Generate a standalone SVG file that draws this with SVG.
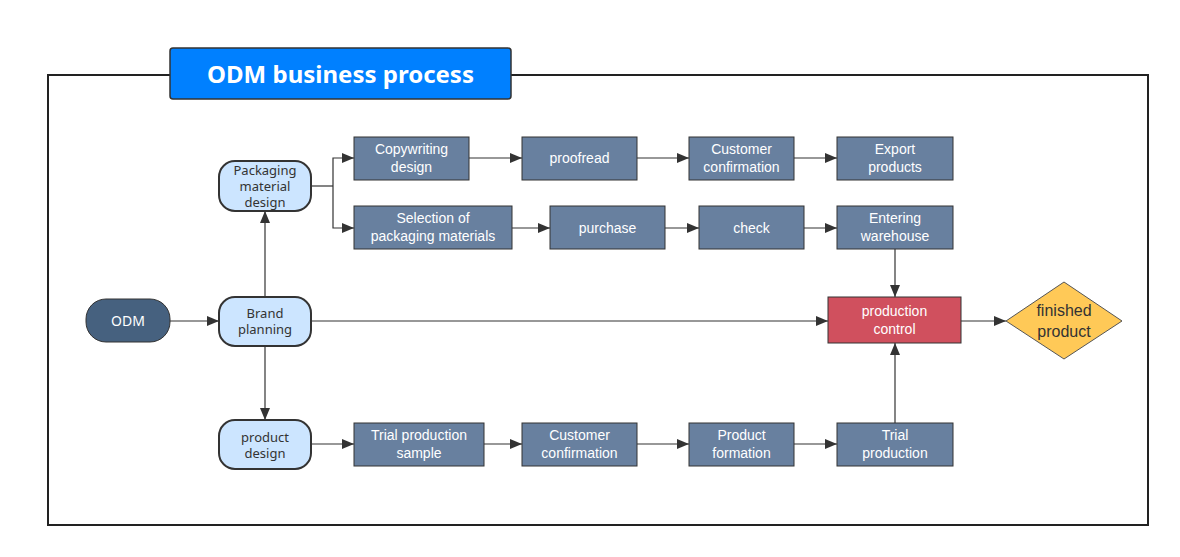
<svg xmlns="http://www.w3.org/2000/svg" width="1180" height="557" viewBox="0 0 1180 557">
<defs>
<marker id="arr" markerWidth="12" markerHeight="10" refX="12" refY="5" orient="auto" markerUnits="userSpaceOnUse">
<path d="M0,0 L12,5 L0,10 Z" fill="#333"/>
</marker>
<style>
.pill{fill:#CCE5FF;stroke:#333;stroke-width:2}
.box{fill:#68809F;stroke:#333;stroke-width:1}
.wt{font-family:"Liberation Sans",Arial,sans-serif;font-size:14px;fill:#fff;text-anchor:middle}
.pt{font-family:"Noto Sans","Open Sans",sans-serif;font-size:13px;fill:#333;text-anchor:middle}
.ln{fill:none;stroke:#333;stroke-width:1.2;marker-end:url(#arr)}
.ln0{fill:none;stroke:#333;stroke-width:1.2}
</style>
</defs>
<rect width="1180" height="557" fill="#fff"/>
<rect x="48" y="75" width="1100" height="450" fill="none" stroke="#222" stroke-width="2"/>
<g id="title">
<rect x="170" y="48" width="341" height="51" rx="3" fill="#0080FF" stroke="#333" stroke-width="1.5"/>
<text x="340.5" y="83" font-family="'Noto Sans','Open Sans',sans-serif" font-size="24" font-weight="bold" fill="#fff" text-anchor="middle">ODM business process</text>
</g>
<g id="connectors">
<path class="ln" d="M170,321 H219"/>
<path class="ln" d="M265,297 V211"/>
<path class="ln" d="M265,346 V420"/>
<path class="ln0" d="M311,186 H333"/>
<path class="ln" d="M333,186 V158 H354"/>
<path class="ln" d="M333,186 V228 H354"/>
<path class="ln" d="M469,158 H522"/>
<path class="ln" d="M637,158 H689"/>
<path class="ln" d="M794,158 H837"/>
<path class="ln" d="M512,228 H550"/>
<path class="ln" d="M665,228 H699"/>
<path class="ln" d="M804,228 H837"/>
<path class="ln" d="M311,321 H828"/>
<path class="ln" d="M895,249 V297"/>
<path class="ln" d="M895,423 V343"/>
<path class="ln" d="M961,321 H1006"/>
<path class="ln" d="M311,444 H354"/>
<path class="ln" d="M484,444 H522"/>
<path class="ln" d="M637,444 H689"/>
<path class="ln" d="M794,444 H837"/>
</g>
<g id="odm">
<rect x="86" y="299" width="84" height="43" rx="20" fill="#46617F" stroke="#333" stroke-width="1"/>
<text class="pt" x="128" y="326" style="fill:#fff;font-size:14px">ODM</text>
</g>
<g id="brand">
<rect class="pill" x="219" y="297" width="92" height="49" rx="16"/>
<text class="pt" x="265" y="318">Brand</text>
<text class="pt" x="265" y="334">planning</text>
</g>
<g id="packaging">
<rect class="pill" x="219" y="161" width="92" height="50" rx="16"/>
<text class="pt" x="265" y="175">Packaging</text>
<text class="pt" x="265" y="191">material</text>
<text class="pt" x="265" y="207">design</text>
</g>
<g id="productdesign">
<rect class="pill" x="219" y="420" width="92" height="49" rx="16"/>
<text class="pt" x="265" y="442">product</text>
<text class="pt" x="265" y="458">design</text>
</g>
<g id="copywriting">
<rect class="box" x="354" y="137" width="115" height="43"/>
<text class="wt" x="411.5" y="154">Copywriting</text>
<text class="wt" x="411.5" y="172">design</text>
</g>
<g id="proofread">
<rect class="box" x="522" y="137" width="115" height="43"/>
<text class="wt" x="579.5" y="163">proofread</text>
</g>
<g id="custconf1">
<rect class="box" x="689" y="137" width="105" height="43"/>
<text class="wt" x="741.5" y="154">Customer</text>
<text class="wt" x="741.5" y="172">confirmation</text>
</g>
<g id="export">
<rect class="box" x="837" y="137" width="116" height="43"/>
<text class="wt" x="895" y="154">Export</text>
<text class="wt" x="895" y="172">products</text>
</g>
<g id="selection">
<rect class="box" x="354" y="206" width="158" height="43"/>
<text class="wt" x="433" y="223">Selection of</text>
<text class="wt" x="433" y="241">packaging materials</text>
</g>
<g id="purchase">
<rect class="box" x="550" y="206" width="115" height="43"/>
<text class="wt" x="607.5" y="233">purchase</text>
</g>
<g id="check">
<rect class="box" x="699" y="206" width="105" height="43"/>
<text class="wt" x="751.5" y="233">check</text>
</g>
<g id="warehouse">
<rect class="box" x="837" y="206" width="116" height="43"/>
<text class="wt" x="895" y="223">Entering</text>
<text class="wt" x="895" y="241">warehouse</text>
</g>
<g id="prodcontrol">
<rect x="828" y="297" width="133" height="46" fill="#D0505E" stroke="#333" stroke-width="1"/>
<text class="wt" x="894.5" y="316">production</text>
<text class="wt" x="894.5" y="334">control</text>
</g>
<g id="finished">
<path d="M1064,282 L1122,321 L1064,359 L1006,321 Z" fill="#FFC957" stroke="#555" stroke-width="1"/>
<text x="1064" y="316" font-family="'Liberation Sans',Arial,sans-serif" font-size="16" fill="#333" text-anchor="middle">finished</text>
<text x="1064" y="337" font-family="'Liberation Sans',Arial,sans-serif" font-size="16" fill="#333" text-anchor="middle">product</text>
</g>
<g id="trialsample">
<rect class="box" x="354" y="423" width="130" height="43"/>
<text class="wt" x="419" y="440">Trial production</text>
<text class="wt" x="419" y="458">sample</text>
</g>
<g id="custconf2">
<rect class="box" x="522" y="423" width="115" height="43"/>
<text class="wt" x="579.5" y="440">Customer</text>
<text class="wt" x="579.5" y="458">confirmation</text>
</g>
<g id="formation">
<rect class="box" x="689" y="423" width="105" height="43"/>
<text class="wt" x="741.5" y="440">Product</text>
<text class="wt" x="741.5" y="458">formation</text>
</g>
<g id="trialprod">
<rect class="box" x="837" y="423" width="116" height="43"/>
<text class="wt" x="895" y="440">Trial</text>
<text class="wt" x="895" y="458">production</text>
</g>
</svg>
